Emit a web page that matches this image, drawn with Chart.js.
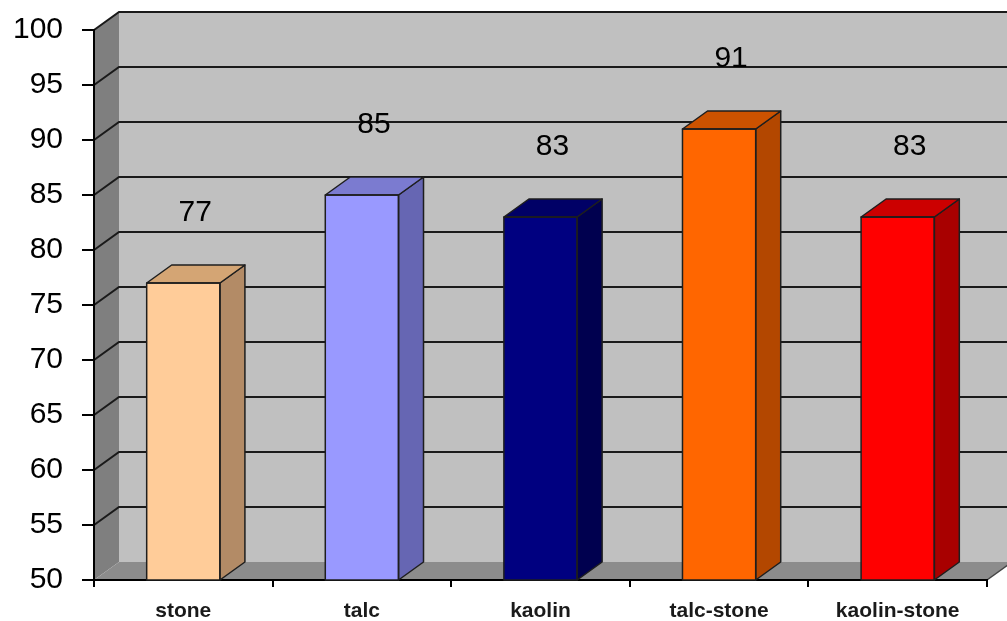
<!DOCTYPE html>
<html><head><meta charset="utf-8">
<script src="https://cdn.jsdelivr.net/npm/chart.js@4.4.0/dist/chart.umd.min.js"></script>
<style>html,body{margin:0;padding:0;background:#fff;overflow:hidden}</style>
</head><body>
<canvas id="c" width="1007" height="621"></canvas>
<script>
const categories = ['stone', 'talc', 'kaolin', 'talc-stone', 'kaolin-stone'];
const values = [77, 85, 83, 91, 83];
const yMin = 50, yMax = 100, yStep = 5;
const frontColors = ['#FFCC99', '#9999FF', '#000080', '#FF6600', '#FF0000'];
const sideColors  = ['#B38B66', '#6666B3', '#00004F', '#B34700', '#A80000'];
const topColors   = ['#D4A574', '#7B7BD0', '#000066', '#CC5200', '#CC0000'];

const DX = 25, DY = -18;
const FONT = 'Arial, "Liberation Sans", sans-serif';

const walls = {
  id: 'walls',
  beforeDraw(chart) {
    const {ctx, chartArea: a, scales: {y}} = chart;
    const L = a.left, R = a.right, T = a.top, B = a.bottom;
    ctx.save();
    ctx.fillStyle = '#c0c0c0';
    ctx.fillRect(L + DX, T + DY, R - L + 40, B - T);
    ctx.fillStyle = '#7f7f7f';
    ctx.beginPath();
    ctx.moveTo(L, T); ctx.lineTo(L + DX, T + DY); ctx.lineTo(L + DX, B + DY); ctx.lineTo(L, B);
    ctx.closePath(); ctx.fill();
    ctx.fillStyle = '#8c8c8c';
    ctx.beginPath();
    ctx.moveTo(L, B); ctx.lineTo(R, B); ctx.lineTo(R + DX, B + DY); ctx.lineTo(L + DX, B + DY);
    ctx.closePath(); ctx.fill();
    ctx.strokeStyle = '#444'; ctx.lineWidth = 1.5;
    ctx.beginPath(); ctx.moveTo(R, B); ctx.lineTo(R + DX, B + DY); ctx.stroke();
    ctx.strokeStyle = '#1a1a1a'; ctx.lineWidth = 2;
    for (let v = yMin + yStep; v <= yMax; v += yStep) {
      const py = y.getPixelForValue(v);
      ctx.beginPath();
      ctx.moveTo(L, py); ctx.lineTo(L + DX, py + DY); ctx.lineTo(R + DX + 40, py + DY);
      ctx.stroke();
    }
    ctx.restore();
  }
};

const bars3d = {
  id: 'bars3d',
  afterDatasetsDraw(chart) {
    const {ctx, chartArea} = chart;
    const meta = chart.getDatasetMeta(0);
    ctx.save();
    ctx.lineWidth = 1.5; ctx.strokeStyle = '#1e1e1e'; ctx.lineJoin = 'round';
    meta.data.forEach((bar, i) => {
      const p = bar.getProps(['x', 'y', 'base', 'width'], true);
      const x = p.x, y = p.y, width = p.width;
      const base = Math.min(p.base, chartArea.bottom);
      const l = x - width / 2, r = x + width / 2;
      ctx.fillStyle = sideColors[i];
      ctx.beginPath();
      ctx.moveTo(r, y); ctx.lineTo(r + DX, y + DY); ctx.lineTo(r + DX, base + DY); ctx.lineTo(r, base);
      ctx.closePath(); ctx.fill(); ctx.stroke();
      ctx.fillStyle = topColors[i];
      ctx.beginPath();
      ctx.moveTo(l, y); ctx.lineTo(l + DX, y + DY); ctx.lineTo(r + DX, y + DY); ctx.lineTo(r, y);
      ctx.closePath(); ctx.fill(); ctx.stroke();
      ctx.strokeRect(l, y, width, base - y);
      ctx.fillStyle = '#000';
      ctx.font = '30px ' + FONT;
      ctx.textAlign = 'center'; ctx.textBaseline = 'middle';
      ctx.fillText(String(values[i]), x + 12, y - 70);
    });
    ctx.restore();
  }
};

new Chart(document.getElementById('c'), {
  type: 'bar',
  data: {
    labels: categories,
    datasets: [{
      data: values,
      backgroundColor: frontColors,
      borderWidth: 0,
      barPercentage: 0.41,
      categoryPercentage: 1.0
    }]
  },
  options: {
    responsive: false,
    animation: false,
    devicePixelRatio: 1,
    layout: {padding: {top: 30, right: 20, left: 0, bottom: 0}},
    plugins: {legend: {display: false}, tooltip: {enabled: false}},
    scales: {
      x: {
        grid: {display: true, drawOnChartArea: false, drawTicks: true, tickLength: 7, color: '#000', lineWidth: 2, offset: true},
        border: {display: true, color: '#000', width: 2},
        ticks: {color: '#1a1a1a', font: {family: FONT, size: 21, weight: 'bold'}, padding: 12, maxRotation: 0, autoSkip: false},
        afterFit(s) { s.height = 41; s.paddingLeft = 0; s.paddingRight = 0; }
      },
      y: {
        min: yMin, max: yMax,
        grid: {display: true, drawOnChartArea: false, drawTicks: true, tickLength: 12, color: '#000', lineWidth: 2},
        border: {display: true, color: '#000', width: 2},
        ticks: {stepSize: yStep, color: '#000', font: {family: FONT, size: 30}, padding: 19},
        afterFit(s) { s.width = 94; s.paddingTop = 0; s.paddingBottom = 0; }
      }
    }
  },
  plugins: [walls, bars3d]
});
</script>
</body></html>
